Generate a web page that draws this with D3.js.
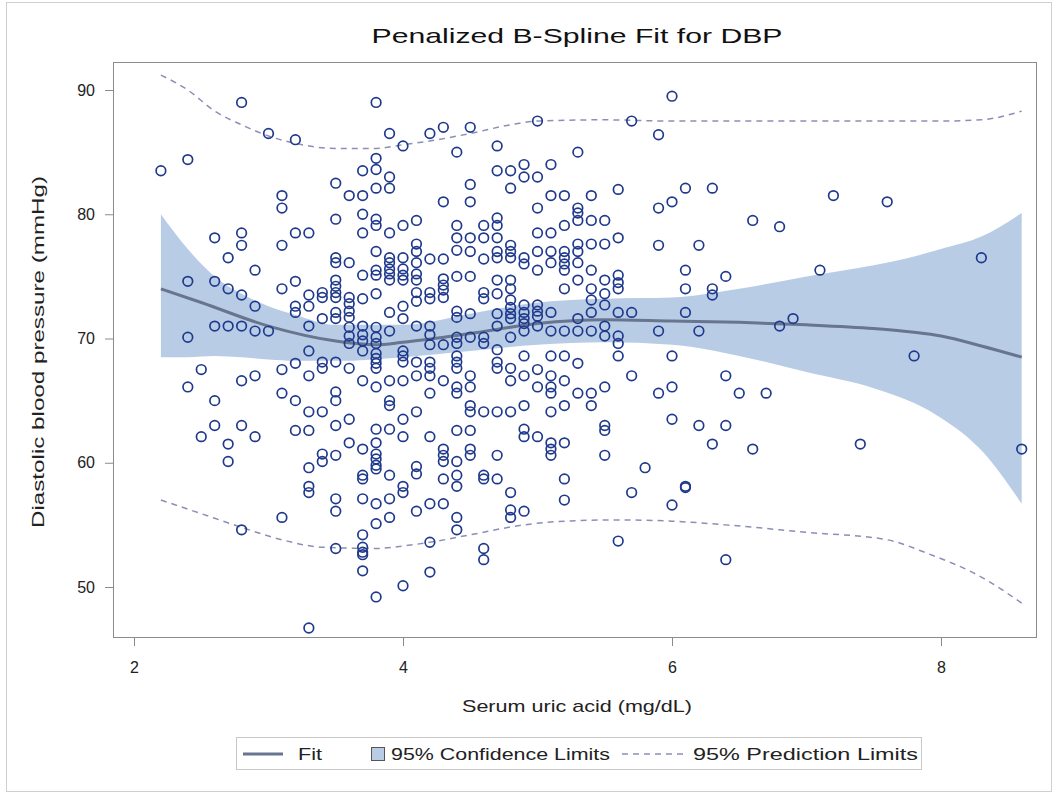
<!DOCTYPE html>
<html><head><meta charset="utf-8">
<script src="https://cdn.jsdelivr.net/npm/d3@7"></script>
<style>
html,body{margin:0;padding:0;background:#fff;}
svg{display:block;font-family:"Liberation Sans",Arial,sans-serif;}
</style></head>
<body><svg id="chart" width="1059" height="796"></svg>
<script>
// ---- data ----
const xCategories = [2.2,2.4,2.5,2.6,2.7,2.8,2.9,3.0,3.1,3.2,3.3,3.4,3.5,3.6,3.7,3.8,3.9,4.0,4.1,4.2,4.3,4.4,4.5,4.6,4.7,4.8,4.9,5.0,5.1,5.2,5.3,5.4,5.5,5.6,5.7,5.8,5.9,6.0,6.1,6.2,6.3,6.4,6.5,6.6,6.7,6.8,6.9,7.1,7.2,7.4,7.6,7.8,8.3,8.6];
const dbpValues = [
 [83.5],
 [84.4,74.6,70.1,66.1],
 [67.5,62.1],
 [78.1,74.6,71.0,65.0,63.0],
 [76.5,74.0,71.0,61.5,60.1],
 [89.0,78.5,77.5,73.5,71.0,66.6,63.0,54.6],
 [75.5,72.6,70.6,67.0,62.1],
 [86.5,70.6],
 [81.5,80.5,77.5,74.0,67.5,65.6,55.6],
 [86.0,78.5,74.6,72.6,72.1,68.0,65.0,62.6],
 [78.5,73.5,72.6,71.0,69.0,67.0,64.1,62.6,59.6,58.1,57.6,46.7],
 [73.7,73.3,71.6,68.1,67.6,64.1,60.7,60.1],
 [82.5,79.6,76.5,76.1,74.7,74.2,73.7,73.3,72.1,71.6,68.1,65.7,65.0,63.0,60.6,57.1,56.1,53.1],
 [81.5,76.1,73.3,72.8,72.2,71.7,70.9,70.2,69.6,67.6,63.5,61.6],
 [83.5,81.5,80.0,78.5,75.1,73.2,71.0,70.3,69.8,69.0,66.6,61.1,59.0,58.7,57.1,54.2,53.2,52.8,52.6,51.3],
 [89.0,84.5,83.6,82.1,79.6,79.1,77.0,75.5,75.1,73.6,70.9,70.1,69.6,68.8,68.4,68.0,67.6,66.1,62.7,61.6,60.7,60.3,59.8,59.5,56.7,55.1,49.2],
 [86.5,83.0,82.1,78.5,76.5,76.1,75.6,75.2,74.7,72.1,70.6,66.6,65.0,64.6,62.7,59.0,57.1,55.6],
 [85.5,79.1,76.5,75.6,75.1,74.7,72.6,71.6,69.0,68.6,68.1,66.6,63.5,62.1,58.1,57.6,50.1],
 [79.5,77.6,77.0,76.1,75.2,74.7,73.7,73.0,71.0,68.1,67.0,64.1,59.7,59.1,56.1],
 [86.5,76.4,73.7,73.2,71.0,70.3,69.5,68.1,67.6,67.0,65.6,62.1,56.7,53.6,51.2],
 [87.0,81.0,76.4,74.8,74.3,73.9,73.3,69.5,66.6,61.1,60.6,60.1,58.7,56.7],
 [85.0,79.1,78.1,77.1,75.0,72.2,71.7,70.1,69.6,68.6,68.1,67.6,66.1,65.6,62.6,60.1,59.0,58.1,55.6,54.6],
 [87.0,82.4,81.0,78.1,77.0,75.0,72.0,70.1,67.0,66.1,64.6,64.1,62.6,61.1,60.6],
 [79.1,78.1,76.4,73.7,73.2,70.1,69.6,64.1,59.0,58.7,53.1,52.2],
 [85.5,83.5,79.7,79.1,78.1,77.0,76.5,74.7,73.6,72.0,71.0,69.1,68.1,67.6,64.1,60.6,58.7],
 [83.5,82.1,77.5,77.0,76.5,74.7,74.0,73.1,72.5,72.0,71.6,70.1,67.6,66.6,64.1,57.6,56.2,55.6],
 [84.0,83.0,76.5,76.0,72.7,72.1,71.6,71.2,70.6,68.6,67.0,64.6,62.7,62.1,56.1],
 [87.5,83.0,80.5,78.5,77.0,75.5,72.7,72.2,71.8,71.0,67.5,66.1,62.1],
 [84.0,81.5,78.5,77.0,76.1,72.1,70.6,68.6,67.0,66.1,65.6,64.1,61.6,61.1,60.6],
 [81.5,79.1,77.0,76.5,76.0,75.5,74.0,70.6,68.6,66.6,64.6,61.6,58.7,57.0],
 [85.0,80.5,80.1,79.5,77.6,77.0,76.1,74.7,71.6,70.6,68.0,65.6],
 [81.5,79.5,77.6,75.5,74.0,73.1,72.1,70.6,65.6,64.6],
 [79.5,77.6,74.7,73.6,72.7,71.0,70.2,66.1,63.0,62.6,60.6],
 [82.0,78.1,75.1,74.5,74.0,72.1,70.2,69.6,68.6,53.7],
 [87.5,72.1,67.0,57.6],
 [59.6],
 [86.4,80.5,77.5,70.6,65.6],
 [89.5,81.0,68.6,66.1,63.5,56.6],
 [82.1,75.5,74.0,72.1,58.1,58.0],
 [77.5,70.6,63.0],
 [82.1,74.0,73.5,61.5],
 [75.0,67.0,63.0,52.2],
 [65.6],
 [79.5,61.1],
 [65.6],
 [79.0,71.0],
 [71.6],
 [75.5],
 [81.5],
 [61.5],
 [81.0],
 [68.6],
 [76.5],
 [61.1]
];

const fitX = [2.2,2.5,3.0,3.5,3.8,4.0,4.5,5.0,5.5,6.0,6.5,7.0,7.5,7.8,8.0,8.3,8.6];
const fitY = [74.0,72.9,71.0,69.8,69.5,69.7,70.4,71.2,71.5,71.4,71.3,71.1,70.8,70.5,70.2,69.4,68.5];

const clX     = [2.2,2.4,2.6,2.8,3.0,3.2,3.5,4.0,4.5,5.0,5.5,6.0,6.5,7.0,7.5,7.8,8.0,8.3,8.6];
const clUpper = [80.0,77.2,75.0,73.6,72.6,71.9,71.1,71.1,72.0,72.9,73.2,73.3,74.0,75.0,75.9,76.6,77.2,78.2,80.1];
const clLower = [68.5,68.5,68.6,68.5,68.3,68.2,68.2,68.5,69.0,69.5,69.7,69.5,68.6,67.3,66.0,64.8,63.6,61.0,56.7];

const plUpperX = [2.2,2.4,2.6,2.8,3.0,3.2,3.5,3.8,4.0,4.2,4.5,4.8,5.0,5.5,6.0,7.0,8.0,8.3,8.6];
const plUpper  = [91.2,90.0,88.3,87.2,86.3,85.7,85.3,85.3,85.6,85.9,86.5,87.2,87.5,87.6,87.5,87.5,87.5,87.6,88.3];
const plLowerX = [2.2,2.5,2.8,3.1,3.4,3.8,4.0,4.2,4.5,4.9,5.2,5.6,6.0,6.4,7.0,7.6,7.9,8.3,8.6];
const plLower  = [57.0,55.9,54.8,53.8,53.2,53.1,53.3,53.6,54.2,55.0,55.3,55.4,55.3,55.0,54.4,53.8,52.7,50.8,48.7];

const xTicks = [2,4,6,8];
const yTicks = [50,60,70,80,90];
const titleText = "Penalized B-Spline Fit for DBP";
const xLabel = "Serum uric acid (mg/dL)";
const yLabel = "Diastolic blood pressure (mmHg)";
const legendLabels = ["Fit","95% Confidence Limits","95% Prediction Limits"];

// ---- drawing ----
const svg = d3.select("#chart");
const L = 113, R = 1037, T = 62, B = 638;
const x = d3.scaleLinear().domain([2 - (134 - L)/134.5, 2 + (R - 134)/134.5]).range([L, R]);
const y = d3.scaleLinear().domain([90 - (B - 90)/12.425, 90 + (90 - T)/12.425]).range([B, T]);

// outer border
svg.append("rect").attr("x",6.5).attr("y",2.5).attr("width",1045).attr("height",789)
  .attr("fill","#fff").attr("stroke","#cfcfcf");

// title
svg.append("text").attr("x",577).attr("y",43).attr("text-anchor","middle")
  .attr("font-size",21).attr("fill","#111").attr("textLength",411).attr("lengthAdjust","spacingAndGlyphs")
  .text(titleText);

const plot = svg.append("g");
plot.append("clipPath").attr("id","clip").append("rect")
  .attr("x",L).attr("y",T).attr("width",R-L).attr("height",B-T);
const inner = plot.append("g").attr("clip-path","url(#clip)");

// CI band
const band = d3.area().x((d,i)=>x(clX[i])).y0((d,i)=>y(clLower[i])).y1((d,i)=>y(clUpper[i]))
  .curve(d3.curveMonotoneX);
inner.append("path").datum(clX).attr("d",band).attr("fill","#b8cce6");

// prediction limits
const lineU = d3.line().x((d,i)=>x(plUpperX[i])).y((d,i)=>y(plUpper[i])).curve(d3.curveMonotoneX);
const lineL = d3.line().x((d,i)=>x(plLowerX[i])).y((d,i)=>y(plLower[i])).curve(d3.curveMonotoneX);
inner.append("path").datum(plUpperX).attr("d",lineU).attr("fill","none")
  .attr("stroke","#8b8fb6").attr("stroke-width",1.5).attr("stroke-dasharray","6,5");
inner.append("path").datum(plLowerX).attr("d",lineL).attr("fill","none")
  .attr("stroke","#8b8fb6").attr("stroke-width",1.5).attr("stroke-dasharray","6,5");

// fit
const fitLine = d3.line().x((d,i)=>x(fitX[i])).y((d,i)=>y(fitY[i])).curve(d3.curveMonotoneX);
inner.append("path").datum(fitX).attr("d",fitLine).attr("fill","none")
  .attr("stroke","#67758f").attr("stroke-width",3);

// points
const pts = [];
xCategories.forEach((xv,i)=>dbpValues[i].forEach(v=>pts.push([xv,v])));
inner.selectAll("circle.pt").data(pts).enter().append("circle").attr("class","pt")
  .attr("cx",d=>x(d[0])).attr("cy",d=>y(d[1])).attr("r",4.8)
  .attr("fill","none").attr("stroke","#1f3a8c").attr("stroke-width",1.7);

// frame
plot.append("rect").attr("x",L+0.5).attr("y",T+0.5).attr("width",R-L-1).attr("height",B-T-1)
  .attr("fill","none").attr("stroke","#8c8c8c");

// axes
const xAxis = d3.axisBottom(x).tickValues(xTicks).tickSize(8).tickPadding(6).tickFormat(d3.format("d"));
const gx = svg.append("g").attr("transform",`translate(0,${B})`).call(xAxis);
const yAxis = d3.axisLeft(y).tickValues(yTicks).tickSize(8).tickPadding(10).tickFormat(d3.format("d"));
const gy = svg.append("g").attr("transform",`translate(${L},0)`).call(yAxis);
[gx,gy].forEach(g=>{
  g.attr("font-size",16).attr("font-family","'Liberation Sans',Arial,sans-serif");
  g.select(".domain").remove();
  g.selectAll(".tick line").attr("stroke","#8c8c8c");
  g.selectAll(".tick text").attr("font-size",16).attr("fill","#222");
});
gx.selectAll(".tick text").attr("y",35).attr("dy",0);

svg.append("text").attr("x",577).attr("y",712).attr("text-anchor","middle")
  .attr("font-size",17).attr("fill","#222").attr("textLength",230).attr("lengthAdjust","spacingAndGlyphs")
  .text(xLabel);
svg.append("text").attr("transform","translate(44,352) rotate(-90)").attr("text-anchor","middle")
  .attr("font-size",17).attr("fill","#222").attr("textLength",352).attr("lengthAdjust","spacingAndGlyphs")
  .text(yLabel);

// legend
const lg = svg.append("g");
lg.append("rect").attr("x",236.5).attr("y",737.5).attr("width",685).attr("height",32)
  .attr("fill","#fff").attr("stroke","#c8c8c8");
lg.append("line").attr("x1",243).attr("x2",283).attr("y1",754).attr("y2",754)
  .attr("stroke","#67758f").attr("stroke-width",3);
lg.append("text").attr("x",298).attr("y",760).attr("font-size",17).attr("fill","#222")
  .attr("textLength",24).attr("lengthAdjust","spacingAndGlyphs").text(legendLabels[0]);
lg.append("rect").attr("x",371.5).attr("y",747.5).attr("width",13).attr("height",13)
  .attr("fill","#b8cce6").attr("stroke","#555").attr("stroke-width",1);
lg.append("text").attr("x",391).attr("y",760).attr("font-size",17).attr("fill","#222")
  .attr("textLength",219).attr("lengthAdjust","spacingAndGlyphs").text(legendLabels[1]);
lg.append("line").attr("x1",622).attr("x2",684).attr("y1",754).attr("y2",754)
  .attr("stroke","#8b8fb6").attr("stroke-width",1.5).attr("stroke-dasharray","6,5");
lg.append("text").attr("x",693).attr("y",760).attr("font-size",17).attr("fill","#222")
  .attr("textLength",225).attr("lengthAdjust","spacingAndGlyphs").text(legendLabels[2]);
</script>
</body></html>
